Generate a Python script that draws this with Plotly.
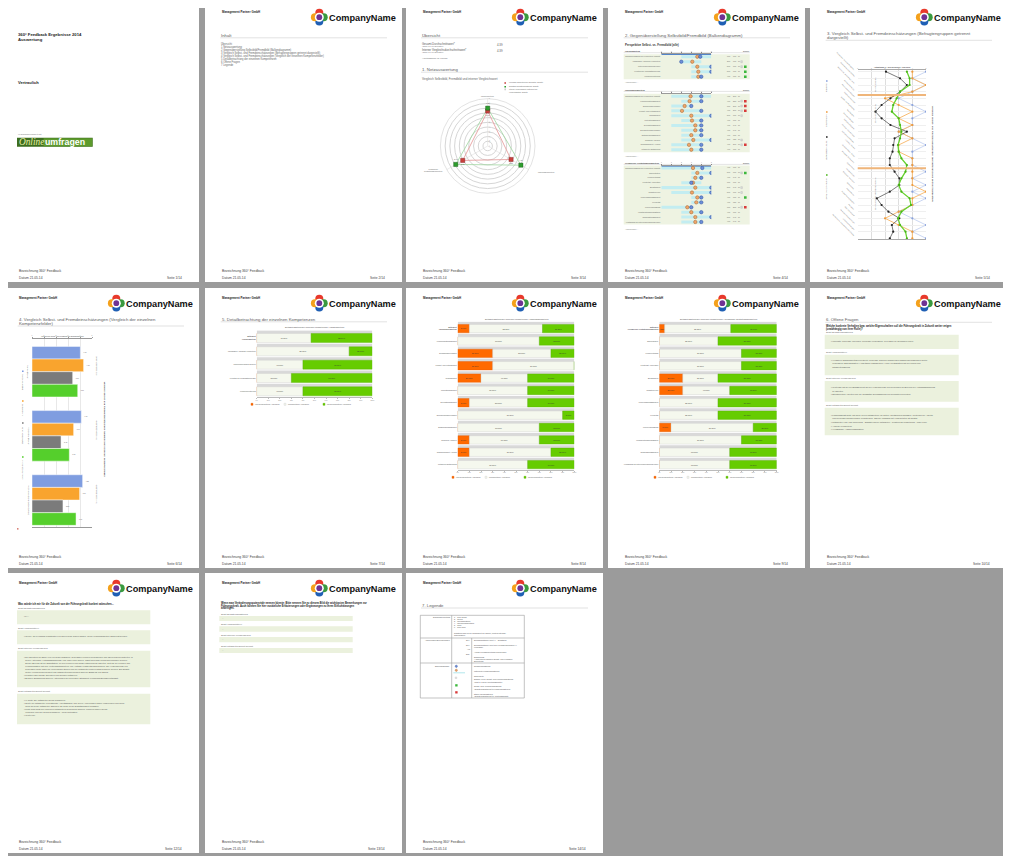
import plotly.graph_objects as go

# ======================= DATA =======================
firma = "Management Partner GmbH"
logo_name = "CompanyName"
fusszeile = ["Bezeichnung 360° Feedback", "Datum 21.05.14"]
seiten_nr = [1, 2, 3, 4, 5, 6, 7, 8, 9, 10, 12, 13, 14]
seiten_gesamt = 14

titel_bericht = ["360° Feedback Ergebnisse 2014", "Auswertung"]
vertraulich = "Vertraulich"
zusammenarbeit = "In Zusammenarbeit mit"
partner_logo = ["Online", "umfragen"]

inhalt = ["Übersicht", "1 Netzauswertung",
          "2 Gegenüberstellung Selbstbild/Fremdbild (Balkendiagramm)",
          "3 Vergleich Selbst- und Fremdeinschätzungen (Befragtengruppen getrennt dargestellt)",
          "4 Vergleich Selbst- und Fremdeinschätzungen (Vergleich der einzelnen Kompetenzfelder)",
          "5 Detailbetrachtung der einzelnen Kompetenzen", "6 Offene Fragen", "7 Legende"]

kennzahlen = ["Gesamt-Durchschnittswert*", "Interner Vergleichsdurchschnittswert*"]
kennzahl_skala = "(Skala 1-5 von Befragten)"
kennzahl_werte = [4.39, 4.39]

kompetenzen = ["Fachkompetenz", "Führungskompetenz", "Persönliche Gestaltungskompetenz"]
radar_fremdbild = [3.7, 2.85, 3.05]
radar_selbstbild = [4.0, 4.05, 3.9]
radar_legende = ["Fremdbild (Bewertung der Befragten; Schnitt)",
                 "Selbstbild (Selbsteinschätzung; Schnitt)",
                 "Interner Vergleichswert (Mittelwert der", "Vergleichsdaten; Schnitt)"]

fach_items = ["Fachwissen / fachliche Kompetenz", "Unternehmerisches Denken",
              "Kenntnis der Geschäftsprozesse", "Kundenorientierung"]
fuehrung_items = ["Kommunikationsfähigkeit", "Einfühlungsvermögen", "Konflikt- und Kritikfähigkeit",
                  "Teamfähigkeit", "Motivationsfähigkeit", "Delegationsfähigkeit",
                  "Durchsetzungsvermögen", "Entscheidungsfähigkeit", "Coaching / Fördern",
                  "Glaubwürdigkeit / Vorbild", "Mitarbeiter-Entwicklung"]
pers_items = ["Eigeninitiative", "Lernbereitschaft", "Kreativität / Innovation", "Belastbarkeit",
              "Selbstreflexion", "Problemlösungsfähigkeit", "Flexibilität", "Überzeugungskraft",
              "Verantwortungsbewusstsein", "Organisationsfähigkeit",
              "Verständnis für unternehmerisches Denken"]

# page 4 (Balkendiagramm)
p4_zusammenfassung = "Zusammenfassung der Kompetenz (Schnitt)"
p4_fach_selbst = [3.9, 2.0, 5.0, 5.0, 4.0]
p4_fach_fremd = [3.6, 3.1, 3.6, 3.7, 3.7]
p4_fach_min = [2, 2, 3, 3, 3]
p4_fach_max = [5, 4, 5, 5, 4]
p4_fach_anz = [10, 10, 10, 10, 10]
p4_fach_grau = [0, 1, 1, 0, 0]
p4_fach_ampel = ["", "", "g", "g", "g"]

p4_fuehr_selbst = [4, 4, 3, 4, 5, 4, 4, 4, 4, 5, 4, 4]
p4_fuehr_fremd = [2.93, 2.83, 2.33, 2.07, 3.0, 3.07, 3.4, 3.4, 3.0, 3.2, 2.77, 3.0]
p4_fuehr_min = [1, 2, 1, 1, 1, 2, 1, 2, 2, 2, 1, 1]
p4_fuehr_max = [5, 4, 3, 4, 5, 4, 4, 4, 4, 5, 4, 4]
p4_fuehr_anz = [10, 10, 10, 10, 10, 10, 10, 10, 10, 10, 10, 10]
p4_fuehr_grau = [0, 1, 1, 1, 1, 0, 0, 0, 0, 1, 1, 0]
p4_fuehr_ampel = ["", "r", "r", "r", "", "", "", "", "", "", "r", ""]

p4_pers_selbst = [4.1, 5, 4, 3, 5, 5, 4, 4, 3, 4, 5, 4]
p4_pers_fremd = [3.17, 3.6, 3.4, 3.17, 3.4, 3.07, 3.6, 3.5, 2.6, 3.0, 3.4, 3.4]
p4_pers_min = [0, 3, 3, 2, 0, 1, 3, 3, 0, 2, 2, 2]
p4_pers_max = [5, 5, 4, 4, 5, 5, 4, 4, 3, 4, 5, 4]
p4_pers_anz = [10, 10, 10, 10, 10, 10, 10, 10, 10, 10, 10, 10]
p4_pers_grau = [0, 1, 0, 0, 1, 1, 0, 0, 1, 0, 0, 0]
p4_pers_ampel = ["", "g", "", "", "", "", "g", "", "r", "", "", ""]
p4_vergleich_von = [0, None, 0]
p4_vergleich_bis = [5, None, 5]

# page 5 (Linien je Befragtengruppe)
befragtengruppen = ["Selbstbild", "Vorgesetzte(r)", "interner Kundenbezug", "Mitarbeiter/Direct Report"]
p5_items = fach_items + fuehrung_items + pers_items
p5_selbst = [5, 4, 5, 4, 3, 4, 5, 4, 4, 3, 4, 5, 4, 4, 4, 5, 4, 5, 4, 5, 4, 3, 4, 5, 4, 5]
p5_vorg = [4, 4, 5, 4, 2, 3, 4, 3, 4, 3, 4, 3, 3, 4, 4, 4, 4, 4, 5, 4, 4, 3, 2, 3, 4, 4]
p5_intern = [2.07, 3.1, 3.6, 3.1, 2.4, 1.75, 1.3, 1.75, 2.4, 3.6, 2.7, 2.6, 2.55, 2.35, 2.35,
             2.7, 3.05, 3.05, 2.35, 1.4, 1.75, 2.25, 3.05, 2.5, 2.6, 2.35]
p5_mitarb = [3.6, 3.8, 3.8, 3.1, 2.85, 2.6, 2.5, 3.0, 3.1, 3.2, 3.1, 2.95, 3.0, 3.2, 3.6,
             3.5, 3.2, 3.0, 3.2, 3.8, 3.9, 3.2, 2.95, 3.1, 3.5, 3.6]

# page 6 (Kompetenzfelder)
p6_gruppen = ["Selbsteinschätzung", "Vorgesetzte(r)", "interner Kundenbezug", "Mitarbeiter/Direct Report"]
p6_selbst = [4.03, 4.11, 4.22]
p6_vorg = [4.30, 3.47, 3.97]
p6_intern = [3.39, 2.42, 2.58]
p6_mitarb = [3.81, 3.11, 3.67]

# pages 7-9 (Detailbetrachtung, Prozent)
auspraegung = ["unterdurchschnittliche Ausprägung", "durchschnittliche Ausprägung", "überdurchschnittliche Ausprägung"]
p7_labels = ["<b>Mittelwert<br>Fachkompetenz</b>"] + fach_items
p7_unter = [0, 0, 0, 0, 0]
p7_durch = [47.06, 80, 40, 30, 40]
p7_ueber = [52.94, 20, 60, 70, 60]
p8_labels = ["<b>Mittelwert<br>Führungskompetenz</b>"] + fuehrung_items
p8_unter = [10, 0, 30, 30, 20, 0, 10, 0, 0, 10, 10, 0]
p8_durch = [62.73, 70, 50, 70, 40, 60, 50, 90, 70, 60, 70, 60]
p8_ueber = [27.27, 30, 20, 0, 40, 40, 40, 10, 30, 30, 20, 40]
p9_labels = ["<b>Mittelwert<br>Persönliche Gestaltungskompetenz</b>"] + pers_items
p9_unter = [4.55, 0, 0, 0, 20, 20, 0, 0, 10, 0, 0, 0]
p9_durch = [56.36, 50, 70, 70, 30, 40, 50, 50, 70, 70, 60, 60]
p9_ueber = [39.09, 50, 30, 30, 50, 40, 50, 50, 20, 30, 40, 40]

# pages 10-12 (offene Fragen)
sichten = ["Sicht Selbsteinschätzung", "Sicht Vorgesetzte(r)", "Sicht interner Kundenbezug",
           "Sicht Mitarbeiter/Direct Report"]
frage_p10 = ["Welche konkrete Verhalten bzw. welche Eigenschaften soll die Führungskraft in Zukunft weiter zeigen",
             "(unabhängig von ihrer Rolle)?"]
antworten_p10 = [
    ["• Innovativ, Prozesse erkennen, Prozesse verbessern, den QS/KVP-Gedanken leben"],
    ["• Verhalten (Sachlichkeit/Zielorientiert): Prozesse auch bei schwierigen Rahmenbedingungen weiter",
     "  verbessern; Eigenschaften (Analytische Fähigkeiten): Hohe Identifikation mit der Firma und",
     "  Mitarbeiterführung"],
    ["• Weiterhin mit so viel Engagement an der Verbesserung von Prozessen im Bereich der Auftragsabwicklung",
     "  zu arbeiten",
     "• Strukturiertes Arbeiten und die sorgfältige Durchführung von geplanten Projekten"],
    ["• Führungskraft sollte mit ihren vielen Mitarbeitern ein gutes Arbeitsumfeld schaffen. Weiterhin die Arbeits-",
     "  und Prozessverbesserungen vorantreiben. Offener Umgang mit Vorgesetzten ist wichtig",
     "• Mitarbeiter-Hilfe und Förderung - Schützt eigene Mitarbeiter - Position für Umsetzung - Klare Linie",
     "• Analyse-Kompetenz",
     "• Verlässliche Aufbauorganisation"],
]
frage_p11 = ["Was würde ich mir für die Zukunft von der Führungskraft konkret wünschen..."]
antworten_p11 = [
    ["• k.A."],
    ["• Gerne: Ihr Feedback konstruktiv von Ihnen mehr geben lassen, wenn Verbindlichkeiten dargelegt werden."],
    ["• Die Direktion im Sinne von ein Team aufbauen, gegenüber Kunden professionell und überzeugend auftreten, in",
     "  seiner Abteilung (Auftragsabwicklung) eine klare Linie finden, damit Prozesse kundenfreundlicher werden.",
     "  Dieser Bereich ist die Schnittstelle zu den Kunden und muss entsprechend arbeiten. Zeit für die Kunden und",
     "  Kommunikation mit den Vertriebsmitarbeitern, um Aufträge rechtzeitig abzuwickeln. Die Verbesserung von",
     "  Prozessen sollte dabei im Vordergrund stehen und die Mitarbeiter sollten mitgenommen werden. Ein Schritt",
     "  weiter: Kundenzufriedenheit und Mitarbeiterzufriedenheit sind die Basis für den Erfolg.",
     "• Positiver über Dinge sprechen und weniger kritisieren",
     "• Bessere Einbindung anderer Abteilungen bei Projekten (Stichwort: Kommunikationsbereitschaft)"],
    ["• er sollte alle Mitarbeiter gleich behandeln",
     "• Sollte die Mitarbeiter in bestimmte Arbeitsabläufe und deren Änderungen früher einbeziehen und auch",
     "  mehr an seine Mitarbeiter abgeben. Er sollte mehr Selbständigkeit zulassen.",
     "• sollte sich nicht nur einzelnen Mitarbeitern besonders widmen, sondern immer gleich",
     "  vorgehen und alle gleich behandeln - mehr Motivation",
     "• Weiter so!"],
]
frage_p12 = ["Wenn man Veränderungspotenziale nennen könnte: Bitte nennen Sie zu diesem Bild die wichtigsten Bemerkungen zur",
             "Führungskraft. Auch können Sie hier zusätzliche Erläuterungen oder Ergänzungen zu Ihren Einschätzungen",
             "anbringen."]
antworten_p12 = ["--", "--", "--", "--"]

# page 13 (Legende)
leg_zeilen = ["Ergebnisse/Wertung", "Abkürzungen/Bezeichnungen", "Balkendiagramm"]
wertung = ["1 = sehr gering", "2 = gering", "3 = durchschnittlich", "4 = überdurchschnittlich", "5 = hoch", "6 = sehr hoch"]
wertung_zusatz = ["Zusätzlich gab es die Möglichkeit die Option „nicht beurteilbar“", "auszuwählen."]
abkuerzungen = ["Ø(x)", "Ø(x̄)", "Anz", "Dist"]
abk_texte = [["Durchschnittlicher Wert (x = Selbstbild)"],
             ["Durchschnittlicher Wert aller Fremdbewertungen (x̄ =", "Fremdbild)"],
             ["Anzahl Fremdbewertungen/Teilnehmer"],
             ["Distanzmaß", "(Abweichung zwischen Selbst- und Fremdbild", "Bewertung)"]]
balken_texte = [["Selbsteinschätzung"], ["Mittelwert Fremdeinschätzung"], ["Spannweite"],
                ["Distanz: keine Selbst- und Fremdeinschätzung", "(nicht in 1/2 der Wertungsschritte)"],
                ["Selbst- bzw. Fremdeinschätzung", "(Selbsteinschätzung ≥ Fremdeinschätzung)"],
                ["Starke Überschätzung", "(Selbsteinschätzung ≥ 1 Wertungsschritt)"]]

# ======================= LAYOUT HELPERS =======================
FONT = "Liberation Sans"
SERIF = "Liberation Serif"
TXT = "#5a5a5a"
OFF = 8                      # page body margin of the browser
W, H = 1011 - OFF, 856 - OFF
PAGE_LEFT = [2, 205, 406, 608, 810]
PAGE_TOP = [2, 288, 573]
PAGE_W, PAGE_H = 197, 280
ORIG = [(PAGE_LEFT[i % 5], PAGE_TOP[i // 5]) for i in range(13)]


def X(p, lx):
    return (ORIG[p][0] + lx - OFF) / W


def Y(p, ly):
    return 1 - (ORIG[p][1] + ly - OFF) / H


ann, shp = [], []


def T(p, lx, ly, s, size=2.8, color=TXT, bold=False, italic=False, xa="left", ya="middle",
      angle=0, family=FONT, yref=None, align="left"):
    if bold:
        s = "<b>" + s + "</b>"
    if italic:
        s = "<i>" + s + "</i>"
    ann.append(dict(xref="paper", x=X(p, lx), yref=yref if yref else "paper",
                    y=ly if yref else Y(p, ly), text=s, showarrow=False, xanchor=xa, yanchor=ya,
                    textangle=angle, align=align, borderpad=0,
                    font=dict(family=family, size=size, color=color)))


def R(p, x0, y0, x1, y1, fill, line=None, lw=0, yref=None):
    d = dict(type="rect", xref="paper", x0=X(p, x0), x1=X(p, x1), fillcolor=fill,
             line=dict(color=line if line else "rgba(0,0,0,0)", width=lw), layer="below")
    if yref:
        d.update(yref=yref, y0=y0, y1=y1)
    else:
        d.update(yref="paper", y0=Y(p, y1), y1=Y(p, y0))
    shp.append(d)


def L(p, x0, y0, x1, y1, color="#cfcfcf", lw=0.6):
    shp.append(dict(type="line", xref="paper", yref="paper", x0=X(p, x0), x1=X(p, x1),
                    y0=Y(p, y0), y1=Y(p, y1), line=dict(color=color, width=lw), layer="below"))


def C(p, cx, cy, r, fill, line=None):
    shp.append(dict(type="circle", xref="paper", yref="paper", x0=X(p, cx - r), x1=X(p, cx + r),
                    y0=Y(p, cy + r), y1=Y(p, cy - r), fillcolor=fill,
                    line=dict(width=0.4 if line else 0, color=line or "rgba(0,0,0,0)"), layer="below"))


def logo(p, cx, cy):
    d = 4.4
    C(p, cx, cy - d, 4.0, "#e8392b")
    C(p, cx + d, cy, 4.0, "#3a9a3f")
    C(p, cx, cy + d, 4.0, "#1f5fb4")
    C(p, cx - d, cy, 4.0, "#f4a11c")
    C(p, cx, cy, 4.5, "#ffffff")
    C(p, cx, cy, 2.9, "#6f3393")


def ax_keys(i):
    s = "" if i == 1 else str(i)
    return "x" + s, "y" + s, "xaxis" + s, "yaxis" + s


fig = go.Figure()
axes = {}
base_ax = dict(showgrid=False, zeroline=False, automargin=False, fixedrange=True)

# ======================= PAGES: frame, header, footer =======================
for p in range(13):
    R(p, 0, 0, PAGE_W, PAGE_H, "#ffffff")
    if p > 0:
        T(p, 15.5, 10.3, firma, size=2.9, color="#222", bold=True)
        logo(p, 114.3, 15.2)
        T(p, 122.6, 15.8, logo_name, size=9.2, color="#111", bold=True)
    T(p, 15.7, 269.0, fusszeile[0], size=3.3, color="#444")
    T(p, 15.7, 276.0, fusszeile[1], size=3.3, color="#444")
    T(p, 181.0, 276.0, "Seite %d/%d" % (seiten_nr[p], seiten_gesamt), size=3.3, color="#444", xa="right")

# ---------- page 1 ----------
T(0, 15.3, 32.0, titel_bericht[0], size=4.2, color="#222", bold=True)
T(0, 15.3, 37.0, titel_bericht[1], size=4.2, color="#222", bold=True)
T(0, 15.3, 80.0, vertraulich, size=4.0, color="#222", bold=True)
T(0, 15.3, 131.7, zusammenarbeit, size=2.3, color="#777")
R(0, 15.0, 135.7, 90.7, 144.7, "#3d6e1f")
R(0, 41.6, 136.2, 90.2, 144.2, "#5c9a2c")
T(0, 15.6, 140.3, partner_logo[0], size=9.3, color="#e9f0a6", italic=True, family=SERIF)
T(0, 42.0, 139.9, partner_logo[1], size=8.8, color="#ffffff", bold=True)

# ---------- page 2 ----------
T(1, 15.3, 33.3, "Inhalt", size=4.3)
L(1, 15.3, 35.8, 182, 35.8)
for i, s in enumerate(inhalt):
    T(1, 15.3, 42.0 + 3.05 * i, s, size=2.6, color="#666")

# ---------- page 3 ----------
T(2, 15.0, 33.3, "Übersicht", size=4.3)
L(2, 15.0, 35.8, 182, 35.8)
for i, s in enumerate(kennzahlen):
    T(2, 15.0, 42.0 + 5.7 * i, s, size=2.7, color="#555")
    T(2, 15.0, 44.4 + 5.7 * i, kennzahl_skala, size=1.9, color="#777")
    T(2, 89.5, 43.2 + 5.7 * i, "%.2f" % kennzahl_werte[i], size=2.8, color="#555")
T(2, 15.0, 56.0, "* Wertungsskala: vgl. Legende", size=1.9, color="#666")
T(2, 15.0, 67.7, "1. Netzauswertung", size=4.3)
L(2, 15.0, 70.2, 182, 70.2)
T(2, 15.0, 77.0, "Vergleich Selbstbild, Fremdbild und interner Vergleichswert", size=2.9, color="#666")
R(2, 98.4, 80.2, 100.0, 81.8, "#c9403c")
T(2, 101.5, 81.0, radar_legende[0], size=1.7, color="#666")
R(2, 98.4, 83.9, 100.0, 85.5, "#2e9e2e")
T(2, 101.5, 84.7, radar_legende[1], size=1.7, color="#666")
R(2, 98.4, 86.6, 100.0, 88.2, "#cccccc")
T(2, 101.5, 87.4, radar_legende[2], size=1.7, color="#666")
T(2, 101.5, 90.0, radar_legende[3], size=1.7, color="#666")

th = kompetenzen + [kompetenzen[0]]
fig.add_trace(go.Scatterpolar(r=radar_fremdbild + [radar_fremdbild[0]], theta=th, mode="lines",
                              line=dict(color="#e39494", width=0.8), subplot="polar"))
fig.add_trace(go.Scatterpolar(r=radar_selbstbild + [radar_selbstbild[0]], theta=th, mode="lines",
                              line=dict(color="#9fd69f", width=0.8), subplot="polar"))
fig.add_trace(go.Scatterpolar(r=radar_fremdbild, theta=kompetenzen, mode="markers+text",
                              marker=dict(symbol="square", size=4.2, color="#c9403c",
                                          line=dict(color="#7a1f1f", width=0.4)),
                              text=["%.2f" % v for v in radar_fremdbild], textposition="bottom center",
                              textfont=dict(size=1.7, color="#555"), subplot="polar"))
fig.add_trace(go.Scatterpolar(r=radar_selbstbild, theta=kompetenzen, mode="markers+text",
                              marker=dict(symbol="square", size=4.2, color="#2e9e2e",
                                          line=dict(color="#145214", width=0.4)),
                              text=["%.2f" % v for v in radar_selbstbild], textposition="top center",
                              textfont=dict(size=1.7, color="#555"), subplot="polar"))
polar = dict(domain=dict(x=[X(2, 34.4), X(2, 129.0)], y=[Y(2, 191.3), Y(2, 96.7)]),
             bgcolor="rgba(0,0,0,0)",
             angularaxis=dict(rotation=90, direction="clockwise", showticklabels=False, ticks="",
                              showline=True, linecolor="#d0d0d0", linewidth=0.6,
                              gridcolor="#ececec", gridwidth=0.4),
             radialaxis=dict(range=[0, 5], dtick=0.5, angle=90, tickangle=0, showline=False, ticks="",
                             tickfont=dict(size=1.4, color="#999"), gridcolor="#d6d6d6", gridwidth=0.6))
T(2, 81.7, 94.0, kompetenzen[0], size=1.8, color="#666", xa="center")
T(2, 131.0, 170.0, kompetenzen[1], size=1.8, color="#666")
T(2, 27.0, 168.0, "Persönliche<br>Gestaltungskompetenz", size=1.8, color="#666", xa="center", align="center")

# ---------- page 4 ----------
P = 3
T(P, 15.7, 33.3, "2. Gegenüberstellung Selbstbild/Fremdbild (Balkendiagramm)", size=4.3)
L(P, 15.7, 35.8, 182, 35.8)
T(P, 15.7, 43.0, "Perspektive Selbst- vs. Fremdbild (alle)", size=2.9, color="#333", bold=True)
p4_sections = [
    dict(labels=[p4_zusammenfassung] + fach_items, selbst=p4_fach_selbst, fremd=p4_fach_fremd,
         lo=p4_fach_min, hi=p4_fach_max, anz=p4_fach_anz, grau=p4_fach_grau, ampel=p4_fach_ampel),
    dict(labels=[p4_zusammenfassung] + fuehrung_items, selbst=p4_fuehr_selbst, fremd=p4_fuehr_fremd,
         lo=p4_fuehr_min, hi=p4_fuehr_max, anz=p4_fuehr_anz, grau=p4_fuehr_grau, ampel=p4_fuehr_ampel),
    dict(labels=[p4_zusammenfassung] + pers_items, selbst=p4_pers_selbst, fremd=p4_pers_fremd,
         lo=p4_pers_min, hi=p4_pers_max, anz=p4_pers_anz, grau=p4_pers_grau, ampel=p4_pers_ampel),
]
p4_first = [54.7, 94.3, 166.0]
p4_last = [74.7, 147.7, 220.0]
p4_head = [49.3, 88.0, 161.0]
p4_note = [80.3, 154.3, 226.7]
for k, sec in enumerate(p4_sections):
    xr, yr, xk, yk = ax_keys(k + 1)
    n = len(sec["labels"])
    sp = (p4_last[k] - p4_first[k]) / (n - 1)
    top, bot = p4_first[k] - sp / 2, p4_last[k] + sp / 2
    R(P, 15.7, top, 141.7, bot, "#eef3e2")
    T(P, 15.7, p4_head[k], kompetenzen[k], size=2.0, color="#444", bold=True)
    T(P, 141.7, p4_head[k], "Distanz", size=1.9, color="#444", xa="right")
    L(P, 15.7, p4_head[k] + 1.4, 141.7, p4_head[k] + 1.4, color="#bbbbbb", lw=0.4)
    T(P, 15.7, p4_note[k], "Anmerkungen: --", size=1.8, color="#777")
    axes[xk] = dict(base_ax, domain=[X(P, 53.3), X(P, 103.3)], range=[0, 5], side="top", anchor=yr,
                    showline=True, linecolor="#9a9a9a", linewidth=0.5, ticks="outside", ticklen=1,
                    tickwidth=0.4, tickcolor="#888", tickfont=dict(size=1.5, color="#777"), dtick=1)
    axes[yk] = dict(base_ax, domain=[Y(P, bot), Y(P, top)], range=[n - 0.5, -0.5], anchor=xr,
                    tickvals=list(range(n)), ticktext=sec["labels"], ticks="",
                    tickfont=dict(size=1.8, color="#666"), showline=False)
    rows = list(range(n))
    fig.add_trace(go.Bar(x=[h - l for l, h in zip(sec["lo"], sec["hi"])], base=sec["lo"], y=rows,
                         orientation="h", width=0.62, offset=-0.31, marker=dict(color="#c3edf1", line_width=0),
                         xaxis=xr, yaxis=yr))
    if p4_vergleich_von[k] is not None:
        fig.add_trace(go.Scatter(x=[p4_vergleich_von[k], p4_vergleich_bis[k]], y=[-0.45, -0.45], mode="lines",
                                 line=dict(color="#1f5fbf", width=1.3), xaxis=xr, yaxis=yr))
    fig.add_trace(go.Scatter(x=sec["fremd"], y=rows, mode="markers", xaxis=xr, yaxis=yr,
                             marker=dict(size=3.4, color="#efa66a", line=dict(color="#a8622a", width=0.5))))
    fig.add_trace(go.Scatter(x=sec["selbst"], y=rows, mode="markers", xaxis=xr, yaxis=yr,
                             marker=dict(size=3.4, color="#6d8fd8", line=dict(color="#2b4c9c", width=0.5))))
    for r in rows:
        T(P, 120.5, r, "%.2f" % sec["selbst"][r], size=1.6, color="#555", xa="center", yref=yr)
        T(P, 126.3, r, "%.2f" % sec["fremd"][r], size=1.6, color="#555", xa="center", yref=yr)
        T(P, 131.0, r, str(sec["anz"][r]), size=1.6, color="#555", xa="center", yref=yr)
        if sec["grau"][r]:
            R(P, 132.8, r - 0.2, 134.4, r + 0.2, "#dddddd", line="#aaaaaa", lw=0.3, yref=yr)
        if sec["ampel"][r]:
            col = "#3cb83c" if sec["ampel"][r] == "g" else "#d83a3a"
            R(P, 136.0, r - 0.26, 138.6, r + 0.26, col, yref=yr)

# ---------- page 5 ----------
P = 4
T(P, 15.7, 31.7, "3. Vergleich Selbst- und Fremdeinschätzungen (Befragtengruppen getrennt", size=4.3)
T(P, 15.7, 36.0, "dargestellt)", size=4.3)
L(P, 15.7, 38.3, 182, 38.3)
xr, yr, xk, yk = ax_keys(4)
n5 = len(p5_items)
axes[xk] = dict(base_ax, domain=[X(P, 47.7), X(P, 116.0)], range=[0, 5], side="top", anchor=yr,
                showgrid=True, gridcolor="#dedede", gridwidth=0.5, dtick=1, showline=True, mirror=True,
                linecolor="#aaaaaa", linewidth=0.6, ticks="", tickfont=dict(size=1.5, color="#777"))
axes[yk] = dict(base_ax, domain=[Y(P, 237.0), Y(P, 68.0)], range=[n5 - 0.9, -0.25], anchor=xr,
                showgrid=True, gridcolor="#efefef", gridwidth=0.4, dtick=1, showticklabels=False)
p5_styles = [("#bccbef", "#8aa2dc", 0.8), ("#f7b565", "#ef9a3a", 0.9),
             ("#444444", "#222222", 0.7), ("#66d22f", "#48b418", 1.3)]
for vals, (lc, mc, lw) in zip([p5_selbst, p5_vorg, p5_intern, p5_mitarb], p5_styles):
    fig.add_trace(go.Scatter(x=vals, y=list(range(n5)), mode="lines+markers", xaxis=xr, yaxis=yr,
                             line=dict(color=lc, width=lw), marker=dict(size=2.2, color=mc)))
sec_len = [len(fach_items), len(fuehrung_items), len(pers_items)]
start = 0
for k, ln in enumerate(sec_len):
    T(P, 66.0, start + 0.6, kompetenzen[k], size=2.1, color="#666", angle=90, xa="center", ya="top", yref=yr)
    start += ln
    if k < 2:
        shp.append(dict(type="line", xref="x4 domain", x0=0, x1=1, yref="y4", y0=start - 0.5, y1=start - 0.5,
                        line=dict(color="#efb57a", width=2.0), layer="above"))
for r, s in enumerate(p5_items):
    T(P, 47.0, r, s, size=1.6, color="#777", angle=45, xa="right", ya="bottom", yref=yr)
T(P, 82.0, 65.3, "Antwortskala (1 = sehr gering bis 5 = sehr hoch)", size=1.6, color="#444", xa="center", bold=True)
T(P, 123.3, 152.0, "Vergleich Selbst- und Fremdeinschätzungen (Befragtengruppen getrennt dargestellt)",
  size=2.4, color="#333", angle=90, xa="center", bold=True)
p5_leg_y = [79.0, 110.0, 135.0, 173.0]
for g, (name, (lc, mc, lw)) in enumerate(zip(befragtengruppen, p5_styles)):
    R(P, 16.0, p5_leg_y[g] - 0.8, 17.6, p5_leg_y[g] + 0.8, mc)
    T(P, 16.8, p5_leg_y[g] + 1.8, name, size=2.0, color="#555", angle=90, xa="center", ya="top")

# ---------- page 6 ----------
P = 5
T(P, 15.7, 31.3, "4. Vergleich Selbst- und Fremdeinschätzungen (Vergleich der einzelnen", size=4.3)
T(P, 15.7, 35.7, "Kompetenzfelder)", size=4.3)
L(P, 15.7, 38.0, 182, 38.0)
xr, yr, xk, yk = ax_keys(5)
axes[xk] = dict(base_ax, domain=[X(P, 30.0), X(P, 90.0)], range=[0, 5], side="top", anchor=yr,
                showgrid=True, gridcolor="#e8e8e8", gridwidth=0.4, dtick=1, showline=True, mirror=True,
                linecolor="#999999", linewidth=0.6, ticks="outside", ticklen=1, tickcolor="#999",
                tickfont=dict(size=1.5, color="#777"))
axes[yk] = dict(base_ax, domain=[Y(P, 239.0), Y(P, 50.7)], range=[2.42, -0.514], anchor=xr,
                showticklabels=False)
p6_colors = ["#7f9de0", "#f9a42e", "#7b7b7b", "#55cf2c"]
p6_all = [p6_selbst, p6_vorg, p6_intern, p6_mitarb]
for j, (vals, col) in enumerate(zip(p6_all, p6_colors)):
    fig.add_trace(go.Bar(x=vals, y=[0, 1, 2], orientation="h", width=0.197, offset=-0.394 + j * 0.197,
                         marker=dict(color=col, line=dict(color="rgba(255,255,255,0.8)", width=0.6)),
                         text=["%.2f" % v for v in vals], textposition="outside", cliponaxis=False,
                         textfont=dict(size=1.6, color="#666"), xaxis=xr, yaxis=yr))
for g in range(3):
    avg = sum(v[g] for v in p6_all) / 4.0
    T(P, 26.7, g, kompetenzen[g], size=1.9, color="#555", angle=90, xa="center", yref=yr)
    T(P, 95.0, g - 0.1, "Gesamtdurchschnitt: %.2f" % avg, size=1.7, color="#666", angle=90, xa="center", yref=yr)
T(P, 60.0, 48.3, "Vergleich der Selbst- und Fremdbilder der Befragtengruppen", size=1.6, color="#444", xa="center")
T(P, 103.3, 142.0, "Vergleich Selbst- und Fremdeinschätzungen (Vergleich der einzelnen Kompetenzfelder)",
  size=2.3, color="#333", angle=90, xa="center", bold=True)
p6_leg_y = [83.3, 113.0, 135.0, 169.0]
for g, name in enumerate(p6_gruppen):
    R(P, 20.0, p6_leg_y[g] - 0.8, 21.6, p6_leg_y[g] + 0.8, p6_colors[g])
    T(P, 20.8, p6_leg_y[g] + 1.8, name, size=1.8, color="#555", angle=90, xa="center", ya="top")
R(P, 15.2, 240.2, 16.4, 241.4, "#c03020")

# ---------- pages 7-9 ----------
T(6, 15.7, 31.3, "5. Detailbetrachtung der einzelnen Kompetenzen", size=4.3)
L(6, 15.7, 33.8, 182, 33.8)
detail = [
    dict(page=6, ax=6, labels=p7_labels, u=p7_unter, d=p7_durch, ue=p7_ueber, x0=51.7, x1=167.3,
         c0=50.0, sp=13.33, ty=39.0, ly=116.3, kom=kompetenzen[0]),
    dict(page=7, ax=7, labels=p8_labels, u=p8_unter, d=p8_durch, ue=p8_ueber, x0=51.7, x1=168.3,
         c0=40.67, sp=12.36, ty=31.0, ly=189.3, kom=kompetenzen[1]),
    dict(page=8, ax=8, labels=p9_labels, u=p9_unter, d=p9_durch, ue=p9_ueber, x0=51.3, x1=168.7,
         c0=40.67, sp=12.36, ty=31.0, ly=189.3, kom=kompetenzen[2]),
]
bar_cols = [("#ff6a00", "#e05a00"), ("#f5f8ee", "#cfcfcf"), ("#66cc00", "#58b000")]
for dd in detail:
    P = dd["page"]
    xr, yr, xk, yk = ax_keys(dd["ax"])
    n = len(dd["labels"])
    top = dd["c0"] - 0.575 * dd["sp"]
    bot = dd["c0"] + (n - 1 + 0.425) * dd["sp"]
    axes[xk] = dict(base_ax, domain=[X(P, dd["x0"]), X(P, dd["x1"])], range=[0, 100], anchor=yr,
                    dtick=10, ticksuffix="%", showline=True, linecolor="#bbbbbb", linewidth=0.5,
                    ticks="outside", ticklen=1, tickcolor="#bbb", tickfont=dict(size=1.5, color="#777"))
    axes[yk] = dict(base_ax, domain=[Y(P, bot), Y(P, top)], range=[n - 1 + 0.425, -0.575], anchor=xr,
                    tickvals=list(range(n)), ticktext=dd["labels"], ticks="",
                    tickfont=dict(size=1.8, color="#555"))
    rows = list(range(n))
    totals = [a + b + c for a, b, c in zip(dd["u"], dd["d"], dd["ue"])]
    fig.add_trace(go.Bar(x=totals, y=rows, orientation="h", width=0.86, offset=-0.56,
                         marker=dict(color="#d9d9d9", line_width=0), xaxis=xr, yaxis=yr))
    base = [0] * n
    for vals, (fc, lc) in zip([dd["u"], dd["d"], dd["ue"]], bar_cols):
        fig.add_trace(go.Bar(x=vals, base=base, y=rows, orientation="h", width=0.68, offset=-0.34,
                             marker=dict(color=fc, line=dict(color=lc, width=0.4)),
                             text=["%.2f%%" % v if v > 0 else "" for v in vals], textposition="inside",
                             insidetextanchor="middle", textangle=0,
                             textfont=dict(size=2.0, color="#333"), xaxis=xr, yaxis=yr))
        base = [b + v for b, v in zip(base, vals)]
    T(P, (dd["x0"] + dd["x1"]) / 2, dd["ty"], "Detailbetrachtung der einzelnen Kompetenzen / " + dd["kom"],
      size=2.1, color="#444", xa="center")
    for lx, (fc, lc), name in zip([46.0, 79.0, 118.0], bar_cols, auspraegung):
        R(P, lx, dd["ly"] - 1.0, lx + 2.0, dd["ly"] + 1.0, fc, line=lc, lw=0.4)
        T(P, lx + 2.6, dd["ly"], name, size=1.6, color="#666")

# ---------- pages 10-12 ----------
def offene_seite(P, frage, fy, fsp, antworten, lab_y, boxes, first, sp, bx0, bx1, tx):
    for i, s in enumerate(frage):
        T(P, 15.0, fy + fsp * i, s, size=2.6, color="#222", bold=True)
    for k in range(4):
        T(P, 15.0, lab_y[k], sichten[k], size=2.4, color="#666")
        R(P, bx0, boxes[k][0], bx1, boxes[k][1], "#ebf1dd")
        for i, s in enumerate(antworten[k]):
            T(P, tx, first[k] + sp * i, s, size=2.2, color="#555")


T(9, 15.3, 31.5, "6. Offene Fragen", size=4.3)
L(9, 15.3, 34.3, 182, 34.3)
offene_seite(9, frage_p10, 37.9, 2.8, antworten_p10, [44.7, 64.7, 90.3, 117.3],
             [(46.7, 61.0), (66.7, 87.3), (93.0, 113.7), (119.7, 147.3)],
             [53.0, 71.7, 99.0, 126.7], 3.6, 14.7, 148.7, 20.0)
offene_seite(10, frage_p11, 30.7, 2.8, antworten_p11, [35.0, 55.7, 75.7, 118.3],
             [(37.3, 51.3), (57.3, 71.3), (77.7, 114.3), (120.7, 151.3)],
             [43.3, 63.7, 84.3, 127.0], 3.0, 15.0, 148.3, 21.0)
offene_seite(11, frage_p12, 29.9, 2.7, [[a] for a in antworten_p12], [41.3, 51.7, 62.3, 73.0],
             [(43.0, 48.0), (53.3, 58.7), (64.0, 69.3), (75.0, 80.0)],
             [45.4, 55.8, 66.4, 77.3], 3.0, 14.3, 147.7, 16.0)

# ---------- page 13 ----------
P = 12
T(P, 15.0, 32.3, "7. Legende", size=4.3)
L(P, 15.0, 35.0, 182, 35.0)
gc = "#9a9a9a"
R(P, 14.3, 42.3, 118.3, 125.0, "rgba(0,0,0,0)", line=gc, lw=0.6)
L(P, 45.7, 42.3, 45.7, 125.0, gc, 0.6)
L(P, 65.7, 65.0, 65.7, 125.0, gc, 0.6)
L(P, 14.3, 65.0, 118.3, 65.0, gc, 0.6)
L(P, 14.3, 90.0, 118.3, 90.0, gc, 0.6)
for s, ly in zip(leg_zeilen, [44.0, 66.7, 93.3]):
    T(P, 45.0, ly, s, size=1.9, color="#555", xa="right")
for i, s in enumerate(wertung):
    T(P, 47.3, 43.6 + 2.1 * i, s, size=1.9, color="#555")
for i, s in enumerate(wertung_zusatz):
    T(P, 47.3, 60.0 + 2.3 * i, s, size=1.9, color="#555")
abk_y = [66.7, 71.7, 76.3, 81.0]
abk_t_y = [66.7, 71.7, 79.0, 83.7]
for k, s in enumerate(abkuerzungen):
    T(P, 64.7, abk_y[k], s, size=1.9, color="#555", xa="right")
    for i, t in enumerate(abk_texte[k]):
        T(P, 67.3, abk_t_y[k] + 2.3 * i, t, size=1.9, color="#555")
bal_y = [92.7, 97.7, 102.7, 106.3, 113.3, 120.7]
for k, lines in enumerate(balken_texte):
    for i, t in enumerate(lines):
        T(P, 67.3, bal_y[k] + 2.5 * i, t, size=1.9, color="#555")
C(P, 50.3, 93.3, 1.1, "#6d8fd8", line="#2b4c9c")
C(P, 50.3, 97.3, 1.1, "#efa66a", line="#a8622a")
R(P, 47.3, 99.1, 59.0, 100.4, "#c3edf1")
R(P, 49.2, 104.0, 50.8, 105.5, "#eeeeee", line="#aaaaaa", lw=0.3)
R(P, 49.2, 111.2, 51.6, 113.5, "#3cb83c")
R(P, 49.2, 118.2, 51.6, 120.5, "#d83a3a")

# ======================= FIGURE =======================
fig.update_layout(
    width=W, height=H, margin=dict(l=0, r=0, t=0, b=0),
    paper_bgcolor="#9b9b9b", plot_bgcolor="rgba(0,0,0,0)",
    showlegend=False, template="none", font=dict(family=FONT),
    shapes=shp, annotations=ann, polar=polar, barmode="overlay",
    **axes,
)
fig.update_traces(hoverinfo="skip")
fig.write_html("out.html")
